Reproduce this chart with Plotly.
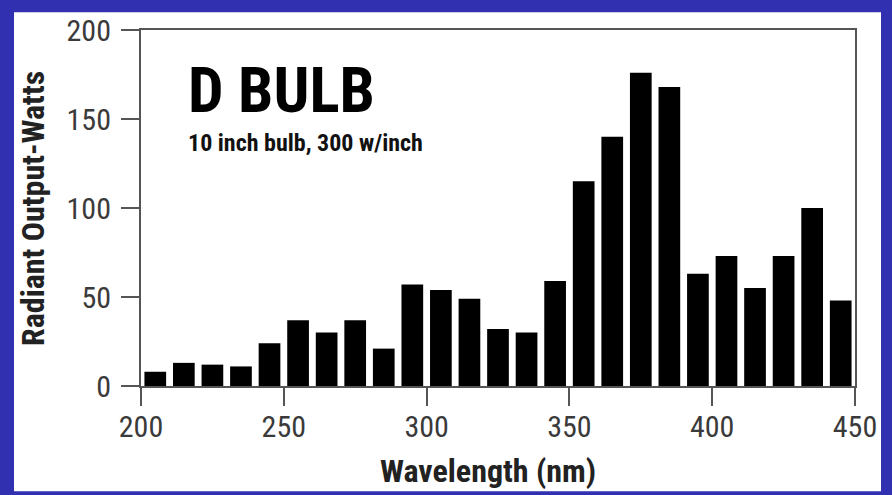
import plotly.graph_objects as go

# wavelength bins (nm, bin centres) and radiant output (watts)
wavelengths = [205, 215, 225, 235, 245, 255, 265, 275, 285, 295,
               305, 315, 325, 335, 345, 355, 365, 375, 385, 395,
               405, 415, 425, 435, 445]
output_watts = [8, 13, 12, 11, 24, 37, 30, 37, 21, 57,
                54, 49, 32, 30, 59, 115, 140, 176, 168, 63,
                73, 55, 73, 100, 48]
x_ticks = [200, 250, 300, 350, 400, 450]
y_ticks = [0, 50, 100, 150, 200]

FONT = "Roboto Condensed, Liberation Sans, Arial, sans-serif"
BLUE = "#3030b0"
AXIS = "#555555"

fig = go.Figure(go.Bar(
    x=wavelengths,
    y=output_watts,
    width=7.6,
    marker_color="black",
    marker_line_width=0,
    showlegend=False,
))

axis_style = {
    "ticks": "outside",
    "ticklen": 18,
    "tickwidth": 2,
    "tickcolor": AXIS,
    "showline": True,
    "linecolor": AXIS,
    "linewidth": 2,
    "mirror": True,
    "showgrid": False,
    "zeroline": False,
    "tickfont": {"size": 30, "color": "#3a3a3a", "family": FONT},
}

fig.update_layout(
    width=892,
    height=495,
    margin={"l": 141, "r": 37, "t": 24, "b": 109},
    paper_bgcolor=BLUE,
    plot_bgcolor="white",
    font={"family": FONT, "color": "#333333"},
    xaxis={**axis_style, "range": [200, 450], "tickvals": x_ticks,
           "ticklabelstandoff": -5},
    yaxis={**axis_style, "range": [0, 200], "tickvals": y_ticks,
           "ticklabelstandoff": 4},
    shapes=[{
        "type": "rect",
        "xref": "paper", "yref": "paper",
        "x0": (14 - 141) / 714, "x1": (881 - 141) / 714,
        "y0": (386 - 493) / 362, "y1": (386 - 6) / 362,
        "fillcolor": "white",
        "line": {"width": 0},
        "layer": "below",
    }],
    annotations=[
        {
            "text": "<b>D BULB</b>",
            "xref": "paper", "yref": "paper",
            "x": (186 - 141) / 714, "y": (386 - 46) / 362,
            "xanchor": "left", "yanchor": "top",
            "showarrow": False,
            "font": {"size": 63, "color": "black", "family": FONT},
        },
        {
            "text": "<b>10 inch bulb, 300 w/inch</b>",
            "xref": "paper", "yref": "paper",
            "x": (186 - 141) / 714, "y": (386 - 123) / 362,
            "xanchor": "left", "yanchor": "top",
            "showarrow": False,
            "font": {"size": 24, "color": "#111111", "family": FONT},
        },
        {
            "text": "<b>Radiant Output-Watts</b>",
            "xref": "paper", "yref": "paper",
            "x": (33 - 141) / 714, "y": (386 - 206) / 362,
            "xanchor": "center", "yanchor": "middle",
            "textangle": -90,
            "showarrow": False,
            "font": {"size": 32, "color": "#222222", "family": FONT},
        },
        {
            "text": "<b>Wavelength (nm)</b>",
            "xref": "paper", "yref": "paper",
            "x": (488 - 141) / 714, "y": (386 - 472) / 362,
            "xanchor": "center", "yanchor": "middle",
            "showarrow": False,
            "font": {"size": 32, "color": "#222222", "family": FONT},
        },
    ],
)

# drop the browser's default body margin so the figure fills the window
fig.write_html("out.html", config={"displayModeBar": False},
               post_script="document.body.style.margin='0';")
